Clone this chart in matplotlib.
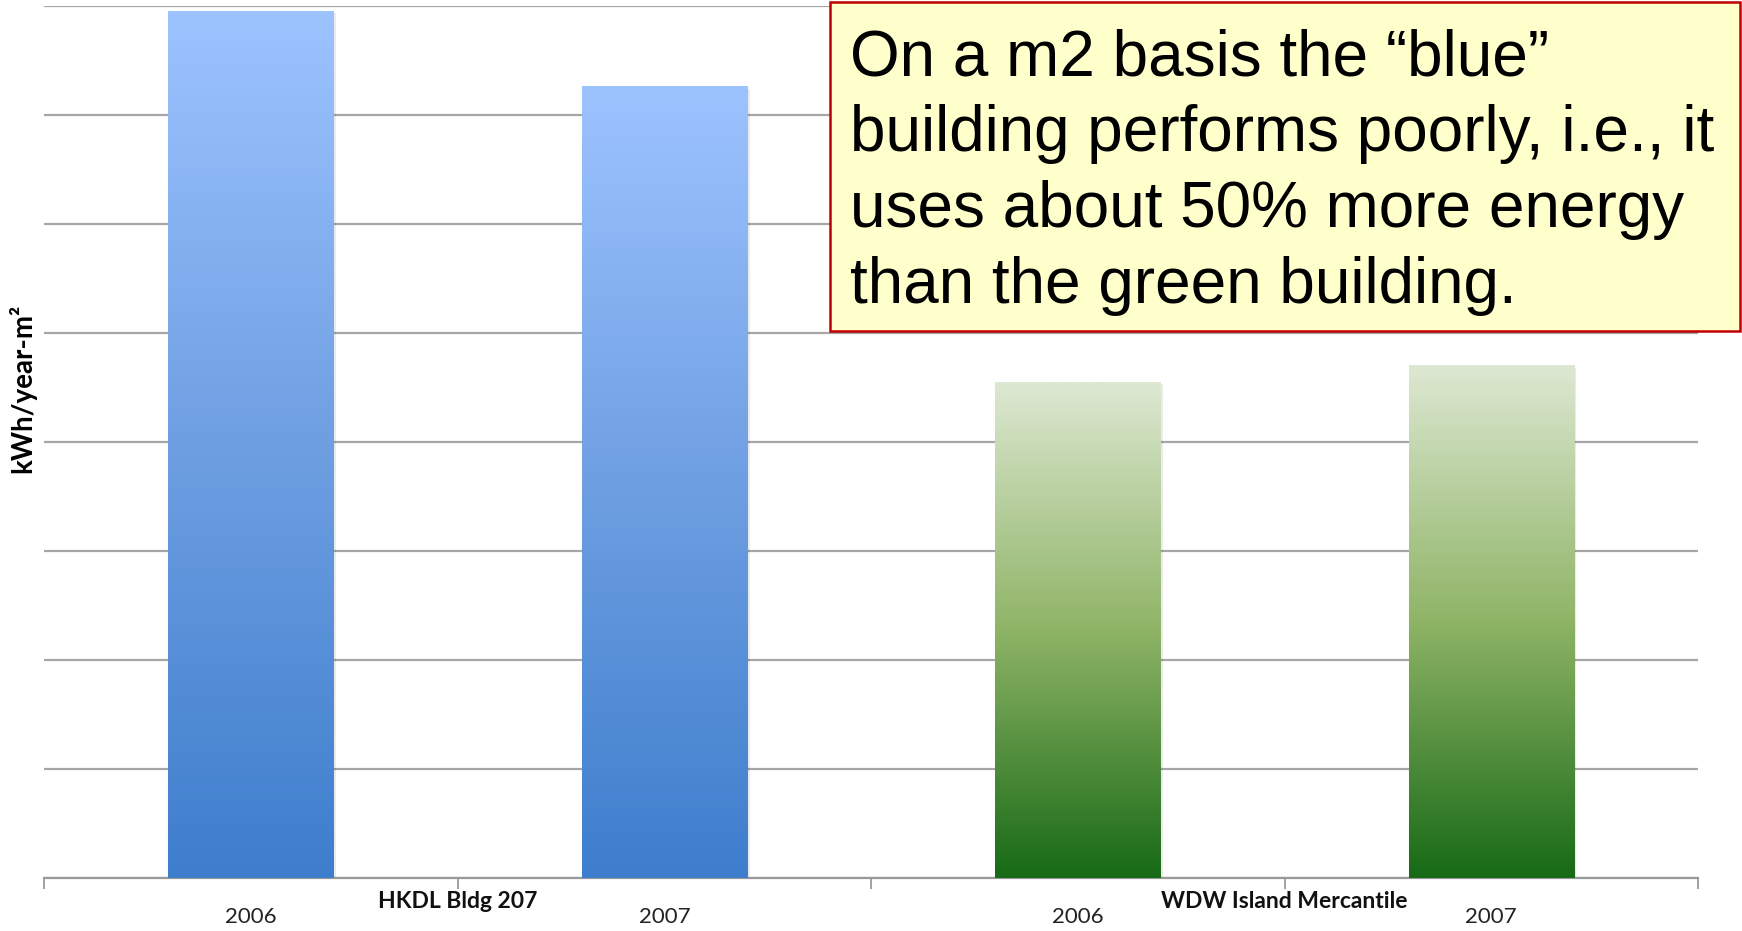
import numpy as np
import matplotlib.pyplot as plt
from matplotlib.colors import LinearSegmentedColormap
from matplotlib.patches import Rectangle
import matplotlib.transforms as mtransforms

# Energy intensity per building and year (axis has no numeric labels, units are grid steps)
buildings = ["HKDL Bldg 207", "WDW Island Mercantile"]
years = ["2006", "2007"]
hkdl_values = [7.95, 7.26]
wdw_values = [4.55, 4.70]
note_lines = [
    "On a m2 basis the \u201cblue\u201d",
    "building performs poorly, i.e., it",
    "uses about 50% more energy",
    "than the green building.",
]

blue_map = LinearSegmentedColormap.from_list("blue_bar", ["#3e7ecd", "#6e9fe2", "#9dc3ff"])
green_map = LinearSegmentedColormap.from_list("green_bar", ["#176a16", "#8fb466", "#dde8d2"])

fig = plt.figure(figsize=(17.42, 9.31), dpi=100)
ax = fig.add_axes([0.0254, 0.0573, 0.9493, 0.9366])

values = hkdl_values + wdw_values
maps = [blue_map, blue_map, green_map, green_map]
positions = np.arange(len(values)) + 0.5
bars = ax.bar(positions, values, width=0.40, color="none", zorder=3)

# fill each bar with a vertical gradient (dark at the base, light at the top)
grad = np.linspace(0, 1, 256).reshape(-1, 1)
for bar, cmap in zip(bars, maps):
    x0, w, h = bar.get_x(), bar.get_width(), bar.get_height()
    ax.add_patch(Rectangle((x0 + 0.006, 0), w, h - 0.02, color="#000000", alpha=0.08, zorder=2, lw=0))
    ax.imshow(grad, cmap=cmap, origin="lower", aspect="auto",
              extent=(x0, x0 + w, 0, h), zorder=3)

ax.set_xlim(0, 4)
ax.set_ylim(0, 8)
ax.set_yticks(np.arange(0, 9))
ax.set_yticklabels([])
ax.tick_params(axis="y", length=0)
ax.grid(axis="y", color="#a6a6a6", linewidth=1.6, zorder=1)
ax.set_axisbelow(True)

ax.set_xticks([0, 1, 2, 3, 4])
ax.set_xticklabels([])
ax.tick_params(axis="x", direction="out", length=8, width=1.3, color="#9a9a9a")
for side in ["left", "right", "top"]:
    ax.spines[side].set_visible(False)
ax.spines["bottom"].set_color("#9a9a9a")
ax.spines["bottom"].set_linewidth(1.6)

trans = mtransforms.blended_transform_factory(ax.transData, fig.transFigure)
for i, pos in enumerate(positions):
    ax.text(pos, 1 - 917 / 931, years[i % 2], transform=trans, ha="center", va="center",
            fontsize=16, family="Lato", color="#222222")
for j, name in enumerate(buildings):
    ax.text(1 + 2 * j, 1 - 902 / 931, name, transform=trans, ha="center", va="center",
            fontsize=16.5, family="Lato", fontweight="bold", color="#111111")

fig.text(22 / 1742, 1 - 388 / 931, "kWh/year-m\u00b2", rotation=90, ha="center", va="center",
         fontsize=20, family="Lato", fontweight="bold")

# callout box
fig.patches.append(Rectangle((830 / 1742, 1 - 331 / 931), 910 / 1742, 329 / 931,
                             transform=fig.transFigure, facecolor="#ffffcc",
                             edgecolor="#c00000", linewidth=1.8, zorder=5))
baselines = [75, 151, 227, 303]
for line, yb in zip(note_lines, baselines):
    fig.text(850 / 1742, 1 - yb / 931, line, ha="left", va="baseline",
             fontsize=46, family="Liberation Sans", color="black", zorder=6)

fig.savefig("out.png", dpi=100)
